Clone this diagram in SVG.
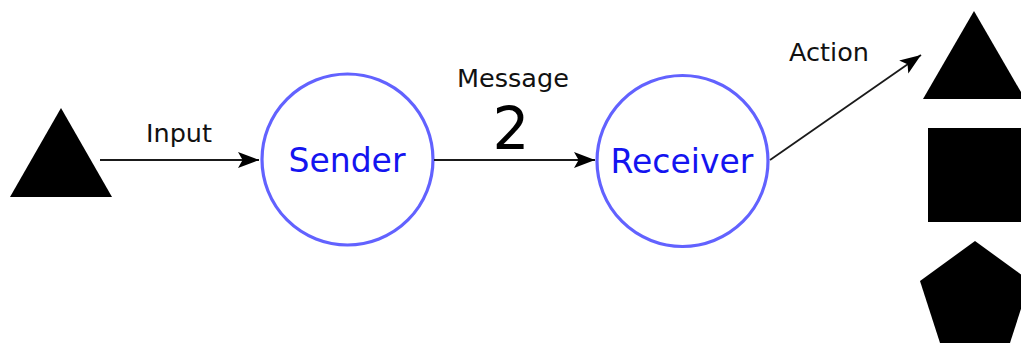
<svg xmlns="http://www.w3.org/2000/svg" width="1021" height="343" viewBox="0 0 1021 343">
<style>
.node{fill:#fff;stroke:#6262ff;stroke-width:3.2}
.nlabel{font-family:"DejaVu Sans",sans-serif;font-size:33px;fill:#1414f0;text-anchor:middle}
.elabel{font-family:"DejaVu Sans",sans-serif;font-size:25.5px;fill:#111;text-anchor:middle}
.edge{stroke:#1a1a1a;stroke-width:1.8;fill:none}
.shape{fill:#000}
</style>
<defs>
<marker id="arr" viewBox="0 0 10 10" refX="10" refY="5" markerWidth="21" markerHeight="21" markerUnits="userSpaceOnUse" orient="auto">
<path d="M0,1.2 L10,5 L0,8.8 L2.2,5 Z" fill="#000"/>
</marker>
</defs>
<rect width="1021" height="343" fill="#fff"/>
<g id="input-shape"><polygon class="shape" points="61,108 112,197 10,197"/></g>
<g id="sender"><circle class="node" cx="347.5" cy="159.5" r="85.5"/><text class="nlabel" x="347" y="172">Sender</text></g>
<g id="receiver"><circle class="node" cx="682.5" cy="161" r="85.5"/><text class="nlabel" x="682" y="173">Receiver</text></g>
<g id="out-triangle"><polygon class="shape" points="974,11 1025,99 923,99"/></g>
<g id="out-square"><rect class="shape" x="928" y="128" width="95" height="94"/></g>
<g id="out-pentagon"><polygon class="shape" points="975,241 1030,281 1009,346 941,346 920,281"/></g>
<g id="connectors">
<line class="edge" x1="100" y1="160" x2="259" y2="160" marker-end="url(#arr)"/>
<text class="elabel" x="179" y="142">Input</text>
<line class="edge" x1="434" y1="160" x2="595" y2="160" marker-end="url(#arr)"/>
<text class="elabel" x="513" y="87">Message</text>
<text class="elabel" x="511" y="149" style="font-size:58px;fill:#000">2</text>
<line class="edge" x1="770" y1="160" x2="921" y2="55" marker-end="url(#arr)"/>
<text class="elabel" x="829" y="61">Action</text>
</g>
</svg>
